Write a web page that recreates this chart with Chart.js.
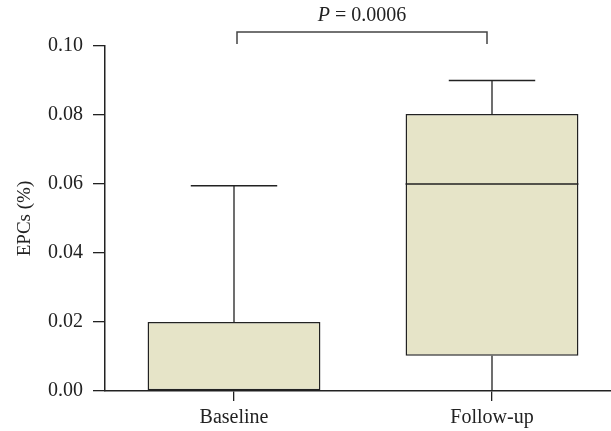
<!DOCTYPE html>
<html>
<head>
<meta charset="utf-8">
<script src="https://cdn.jsdelivr.net/npm/chart.js@4.4.1/dist/chart.umd.min.js"></script>
<style>
  html, body { margin: 0; padding: 0; background: #fff; overflow: hidden; }
  #wrap { width: 621px; height: 431px; }
</style>
</head>
<body>
<div id="wrap"><canvas id="box"></canvas></div>
<script>
// Box plot of EPCs, baseline vs follow-up
const categories = ['Baseline', 'Follow-up'];
const mins = [0, 0];
const q1s = [0, 0.0102];
const medians = [0, 0.06];
const q3s = [0.02, 0.0803];
const maxs = [0.0595, 0.090];
const yTicks = [0, 0.02, 0.04, 0.06, 0.08, 0.10];
const pLabel = '0.0006';

const serif = '"Liberation Serif", "DejaVu Serif", serif';
const ink = '#222';

// whiskers, caps, median lines and the significance bracket
const boxExtras = {
  id: 'boxExtras',
  afterDatasetsDraw(chart) {
    const { ctx, scales: { x, y }, chartArea } = chart;
    const meta = chart.getDatasetMeta(0);
    ctx.save();
    ctx.strokeStyle = ink;
    meta.data.forEach((bar, i) => {
      const cx = x.getPixelForValue(i);
      const half = bar.width / 2;
      const cap = half / 2;
      ctx.lineWidth = 1.3;
      ctx.beginPath();
      // upper whisker
      ctx.moveTo(cx, y.getPixelForValue(q3s[i]));
      ctx.lineTo(cx, y.getPixelForValue(maxs[i]));
      ctx.moveTo(cx - cap, y.getPixelForValue(maxs[i]));
      ctx.lineTo(cx + cap, y.getPixelForValue(maxs[i]));
      // lower whisker
      if (q1s[i] > mins[i]) {
        ctx.moveTo(cx, y.getPixelForValue(q1s[i]));
        ctx.lineTo(cx, y.getPixelForValue(mins[i]));
      }
      ctx.stroke();
      // median
      if (medians[i] > q1s[i]) {
        ctx.lineWidth = 1.5;
        ctx.beginPath();
        ctx.moveTo(cx - half, y.getPixelForValue(medians[i]));
        ctx.lineTo(cx + half, y.getPixelForValue(medians[i]));
        ctx.stroke();
      }
    });

    // bracket
    const x1 = x.getPixelForValue(0) + 3;
    const x2 = x.getPixelForValue(1) - 5;
    const top = chartArea.top - 14;
    ctx.lineWidth = 1.5;
    ctx.strokeStyle = '#444';
    ctx.beginPath();
    ctx.moveTo(x1, top + 12);
    ctx.lineTo(x1, top);
    ctx.lineTo(x2, top);
    ctx.lineTo(x2, top + 12);
    ctx.stroke();

    // P label with italic P
    ctx.fillStyle = ink;
    ctx.textBaseline = 'middle';
    const italic = 'italic 20px ' + serif;
    const upright = '20px ' + serif;
    const rest = ' = ' + pLabel;
    ctx.font = italic;
    const wP = ctx.measureText('P').width;
    ctx.font = upright;
    const wR = ctx.measureText(rest).width;
    const start = (x1 + x2) / 2 - (wP + wR) / 2;
    const ty = top - 16;
    ctx.font = italic;
    ctx.fillText('P', start, ty);
    ctx.font = upright;
    ctx.fillText(rest, start + wP, ty);
    ctx.restore();
  }
};

new Chart(document.getElementById('box'), {
  type: 'bar',
  data: {
    labels: categories,
    datasets: [{
      data: q1s.map((q, i) => [q, q3s[i]]),
      backgroundColor: '#e6e4c8',
      borderColor: ink,
      borderWidth: 1.5,
      borderSkipped: false,
      barPercentage: 0.67,
      categoryPercentage: 1
    }]
  },
  options: {
    responsive: true,
    maintainAspectRatio: false,
    animation: false,
    layout: { padding: { top: 46, left: 0, right: 0, bottom: 0 } },
    plugins: { legend: { display: false }, tooltip: { enabled: false } },
    scales: {
      x: {
        offset: true,
        grid: { display: true, drawOnChartArea: false, offset: false, tickLength: 10, color: ink, lineWidth: 1.3 },
        border: { display: true, color: ink, width: 1.5 },
        ticks: { color: ink, font: { family: serif, size: 20 }, padding: 5 },
        afterFit(scale) { scale.height = 40; }
      },
      y: {
        min: 0,
        max: 0.10,
        afterBuildTicks(scale) { scale.ticks = yTicks.map(v => ({ value: v })); },
        grid: { display: true, drawOnChartArea: false, tickLength: 12, color: ink, lineWidth: 1.3 },
        border: { display: true, color: ink, width: 1.5 },
        ticks: {
          color: ink,
          font: { family: serif, size: 20 },
          padding: 10,
          callback: v => v.toFixed(2)
        },
        title: { display: true, text: 'EPCs (%)', color: ink, font: { family: serif, size: 19 }, padding: { top: 14, bottom: 2 } },
        afterFit(scale) { scale.width = 105; }
      }
    }
  },
  plugins: [boxExtras]
});
</script>
</body>
</html>
